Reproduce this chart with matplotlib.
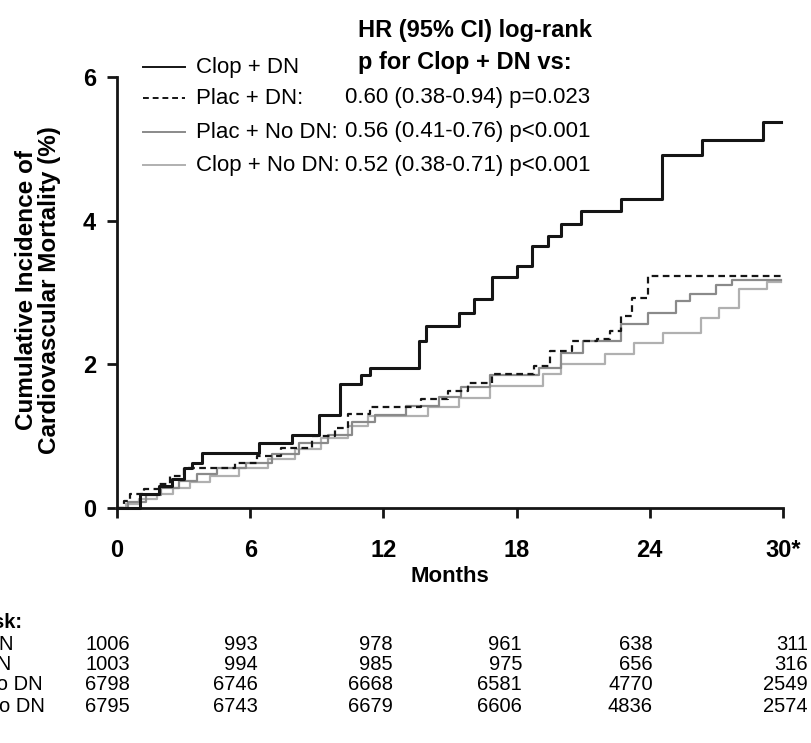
import matplotlib
matplotlib.use("Agg")
import matplotlib.pyplot as plt
from matplotlib.lines import Line2D

plt.rcParams['font.family'] = ['Liberation Sans', 'DejaVu Sans']

# Kaplan-Meier style cumulative incidence (%), step positions in months
months_clop_dn = [0, 1.05, 1.88, 2.47, 3.0, 3.4, 3.83, 6.4, 7.88, 9.08, 10.06, 11.0, 11.4,
                  13.6, 13.9, 15.4, 16.1, 16.9, 18.0, 18.7, 19.4, 20.0, 20.9, 22.7,
                  24.55, 26.35, 29.1, 29.9]
inc_clop_dn = [0, 0.2, 0.31, 0.41, 0.55, 0.63, 0.77, 0.91, 1.02, 1.30, 1.72, 1.85, 1.95,
               2.33, 2.54, 2.71, 2.91, 3.21, 3.37, 3.65, 3.79, 3.95, 4.14, 4.30,
               4.91, 5.12, 5.37, 5.37]

months_plac_dn = [0, 0.3, 0.6, 1.2, 1.9, 2.4, 3.0, 5.3, 6.3, 7.4, 8.8, 9.8, 10.4, 11.4,
                  13.7, 14.9, 15.8, 16.9, 18.8, 19.5, 20.5, 21.6, 22.2, 22.7, 23.2, 23.9, 29.9]
inc_plac_dn = [0, 0.1, 0.19, 0.26, 0.33, 0.45, 0.56, 0.63, 0.72, 0.84, 1.0, 1.12, 1.31, 1.40,
               1.52, 1.63, 1.74, 1.86, 1.98, 2.19, 2.32, 2.35, 2.46, 2.67, 2.93, 3.23, 3.23]

months_plac_nodn = [0, 0.5, 1.3, 2.0, 2.8, 3.6, 4.5, 5.8, 7.0, 8.2, 9.5, 10.6, 11.6, 13.0,
                    14.5, 15.5, 16.8, 19.0, 20.0, 21.0, 22.7, 23.9, 25.2, 25.8, 27.0, 27.7, 29.9]
inc_plac_nodn = [0, 0.08, 0.18, 0.28, 0.38, 0.48, 0.55, 0.62, 0.75, 0.9, 1.02, 1.2, 1.3, 1.42,
                 1.55, 1.68, 1.85, 1.95, 2.16, 2.32, 2.56, 2.72, 2.88, 2.98, 3.10, 3.18, 3.18]

months_clop_nodn = [0, 0.4, 1.0, 1.8, 2.5, 3.3, 4.2, 5.5, 6.8, 8.0, 9.2, 10.4, 11.3, 14.0,
                    15.4, 16.8, 19.2, 20.0, 22.0, 23.3, 24.6, 26.3, 27.1, 28.0, 29.3, 29.9]
inc_clop_nodn = [0, 0.05, 0.12, 0.2, 0.28, 0.36, 0.45, 0.55, 0.68, 0.82, 0.98, 1.14, 1.28, 1.40,
                 1.53, 1.70, 1.86, 2.0, 2.14, 2.30, 2.44, 2.65, 2.79, 3.05, 3.15, 3.15]

groups = ['Clop + DN', 'Plac + DN:', 'Plac + No DN:', 'Clop + No DN:']
hr_text = ['', '0.60 (0.38-0.94) p=0.023', '0.56 (0.41-0.76) p<0.001', '0.52 (0.38-0.71) p<0.001']

tick_months = [0, 6, 12, 18, 24, 30]
tick_labels = ['0', '6', '12', '18', '24', '30*']

risk_labels = ['Clop + DN', 'Plac + DN', 'Plac + No DN', 'Clop + No DN']
risk_clop_dn = [1006, 993, 978, 961, 638, 311]
risk_plac_dn = [1003, 994, 985, 975, 656, 316]
risk_plac_nodn = [6798, 6746, 6668, 6581, 4770, 2549]
risk_clop_nodn = [6795, 6743, 6679, 6606, 4836, 2574]

series = [(months_clop_dn, inc_clop_dn), (months_plac_dn, inc_plac_dn),
          (months_plac_nodn, inc_plac_nodn), (months_clop_nodn, inc_clop_nodn)]
colors = ['#151515', '#151515', '#8a8a8a', '#b0b0b0']
styles = ['-', (0, (3, 2)), '-', '-']
widths = [2.2, 1.6, 1.6, 1.6]

W, H = 811, 743
fig = plt.figure(figsize=(W / 100, H / 100), dpi=100)
ax = fig.add_axes([117 / W, (H - 508) / H, 666 / W, 431 / H])

for (t, y), c, ls, lw in zip(series[::-1], colors[::-1], styles[::-1], widths[::-1]):
    ax.step(t, y, where='post', color=c, linestyle=ls, linewidth=lw, clip_on=False)

ax.set_xlim(0, 30)
ax.set_ylim(0, 6)
for s in ['top', 'right']:
    ax.spines[s].set_visible(False)
for s in ['left', 'bottom']:
    ax.spines[s].set_linewidth(2)
    ax.spines[s].set_color('#151515')
ax.set_yticks([0, 2, 4, 6])
ax.set_xticks(tick_months)
ax.set_xticklabels(tick_labels)
ax.tick_params(axis='both', length=7, width=2, color='#151515', labelsize=17)
ax.tick_params(axis='y', pad=8)
ax.tick_params(axis='x', pad=15)
for lab in ax.get_xticklabels() + ax.get_yticklabels():
    lab.set_fontweight('bold')
ax.set_xlabel('Months', fontsize=16, fontweight='bold', labelpad=3)

fig.text(38 / W, 1 - 290 / H, 'Cumulative Incidence of\nCardiovascular Mortality (%)',
         rotation=90, ha='center', va='center', fontsize=17.5, fontweight='bold',
         linespacing=1.0)

# legend with hazard ratios
row_y = [67, 98, 132, 165]
for i, g in enumerate(groups):
    y = 1 - row_y[i] / H
    fig.add_artist(Line2D([143 / W, 185 / W], [y, y], color=colors[i],
                          linestyle=styles[i], linewidth=1.4))
    fig.text(196 / W, y, g, ha='left', va='center', fontsize=16)
    if hr_text[i]:
        fig.text(345 / W, y, hr_text[i], ha='left', va='center', fontsize=16)
fig.text(358 / W, 1 - 30 / H, 'HR (95% CI) log-rank', ha='left', va='center',
         fontsize=17, fontweight='bold')
fig.text(358 / W, 1 - 62 / H, 'p for Clop + DN vs:', ha='left', va='center',
         fontsize=17, fontweight='bold')

# numbers at risk
fig.text(22 / W, 1 - 622 / H, 'No. at risk:', ha='right', va='center',
         fontsize=14.5, fontweight='bold')
risk_rows = [risk_clop_dn, risk_plac_dn, risk_plac_nodn, risk_clop_nodn]
col_right = [130, 258, 393, 522, 653, 808]
row_pos = [644, 665, 685, 706]
for lbl, row, yp in zip(risk_labels, risk_rows, row_pos):
    y = 1 - yp / H
    fig.text(-80 / W, y, lbl, ha='left', va='center', fontsize=14.5)
    for xr, v in zip(col_right, row):
        fig.text(xr / W, y, str(v), ha='right', va='center', fontsize=14.5)

fig.savefig('out.png', dpi=100, facecolor='white')
